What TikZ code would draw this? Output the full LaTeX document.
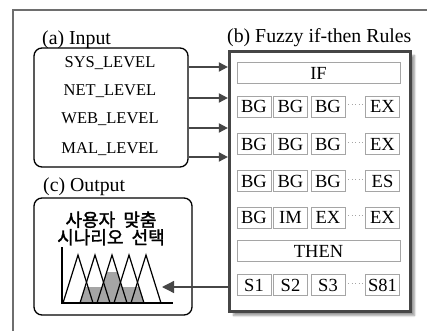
\documentclass[tikz,border=0pt]{standalone}
\usepackage{fontspec}
\setmainfont{Liberation Serif}
\newfontfamily\kofont{Noto Sans CJK KR}[FakeBold=1.6]
\usetikzlibrary{arrows.meta, shadows.blur, calc}
\definecolor{frame}{RGB}{110, 110, 110}
\definecolor{dark}{RGB}{70, 70, 70}
\definecolor{cell}{RGB}{165, 165, 165}
\definecolor{fuzzy}{RGB}{165, 165, 165}

\tikzset{
  box/.style={draw, rounded corners=8pt, line width=1.3pt},
  rulecell/.style={draw=cell, line width=0.9pt, minimum width=34pt,
    minimum height=21pt, inner sep=0pt, font=\fontsize{18.5}{18}\selectfont},
  title/.style={anchor=west, inner sep=0pt, font=\fontsize{19.8}{20}\selectfont},
  level/.style={inner sep=0pt, font=\fontsize{16.5}{16}\selectfont},
  arr/.style={dark, line width=1.8pt, -{Triangle[length=9pt, width=9pt]}},
}

\begin{document}
\begin{tikzpicture}[x=1pt, y=-1pt]

  \useasboundingbox (0,0) rectangle (427,331);
  \draw[frame, line width=2pt] (13,331) -- (13,10) -- (427,10);

  % (a) input
  \node[title] (ttlA) at (42,40) {(a) Input};
  \node[box, minimum width=154pt, minimum height=119pt] (input) at (111,107.5) {};
  \foreach \name/\y in {SYS/63, NET/91, WEB/119, MAL/149}
    \node[level] (\name) at (110,\y) {\name\_LEVEL};

  % (b) rules
  \node[title] (ttlB) at (227,38) {(b) Fuzzy if-then Rules};
  \node[draw=dark, line width=3.2pt, fill=white,
    blur shadow={shadow xshift=4pt, shadow yshift=-4pt, shadow blur steps=6},
    minimum width=181pt, minimum height=260pt] (rules) at (320,181.5) {};
  \node[rulecell, minimum width=163pt] (if) at (318.5,73) {IF};
  \node[rulecell, minimum width=163pt] (then) at (318.5,251) {THEN};
  \foreach \r/\y/\a/\b/\c/\d in {1/106.5/BG/BG/BG/EX, 2/144/BG/BG/BG/EX,
      3/181/BG/BG/BG/ES, 4/217.5/BG/IM/EX/EX, 5/285/S1/S2/S3/S81} {
    \node[rulecell] (r\r-1) at (254,\y) {\a};
    \node[rulecell] (r\r-2) at (290.5,\y) {\b};
    \node[rulecell] (r\r-3) at (328,\y) {\c};
    \node[rulecell] (r\r-4) at (382.5,\y) {\d};
    \draw[cell, line width=1pt, dash pattern=on 1pt off 2.5pt]
      ($(r\r-3.east)+(3,-2)$) -- ($(r\r-4.west)+(-2,-2)$);
  }

  \foreach \y in {67, 98, 128, 157}
    \draw[arr] (input.east |- 0,\y) -- (rules.west |- 0,\y);

  % (c) output
  \node[title] (ttlC) at (43,187) {(c) Output};
  \node[box, minimum width=158pt, minimum height=117pt] (output) at (113,256.5) {};
  \node[font=\kofont\fontsize{18}{17.5}\selectfont, align=center,
    inner sep=0pt] (goal) at (111,228.5) {사용자\hspace{0.45em}맞춤\\시나리오\hspace{0.45em}선택};

  \fill[fuzzy] (80,303) -- (85,287) -- (102,287) -- (106.7,272) -- (117.3,272)
    -- (122,287) -- (139,287) -- (144,303) -- cycle;
  \foreach \p in {78, 95, 112, 129, 146}
    \draw[line width=1.2pt] (\p-15,303) -- (\p,255) -- (\p+15,303);
  \draw[line width=1.3pt] (62,247) -- (62,303) -- (173,303);

  \coordinate (target) at (162,287);
  \draw[dark, line width=1.3pt, -{Triangle[length=12pt, width=12pt]}]
    (rules.west |- target) -- (target);

\end{tikzpicture}
\end{document}
